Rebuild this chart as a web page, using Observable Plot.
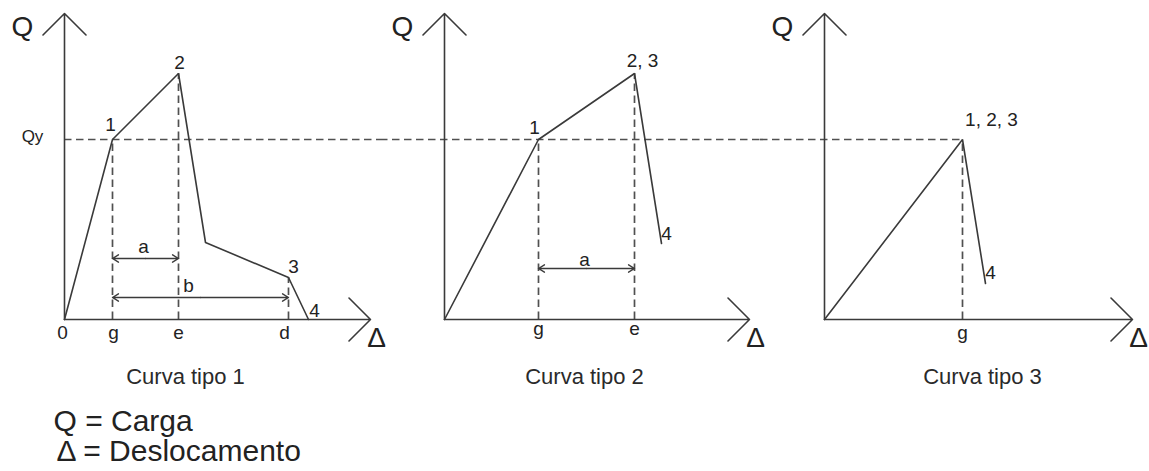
<!DOCTYPE html>
<html><head><meta charset="utf-8">
<script src="https://cdn.jsdelivr.net/npm/d3@7"></script>
<script src="https://cdn.jsdelivr.net/npm/@observablehq/plot@0.6"></script>
<style>body{margin:0;background:#fff} svg{display:block}</style>
</head><body><div id="chart"></div>
<script>
// ---- data (arbitrary units) ----
const panels = [1, 2, 3];
const captions = ["Curva tipo 1", "Curva tipo 2", "Curva tipo 3"];
const legendLines = ["Q = Carga", "Δ = Deslocamento"];
const curveD1 = [0, 48, 114, 141, 224, 244];
const curveQ1 = [0, 180, 246, 77, 42, 0];
const curveD2 = [0, 94, 190, 217];
const curveQ2 = [0, 180, 246, 76];
const curveD3 = [0, 138, 161];
const curveQ3 = [0, 180, 36];
const vertexNames1 = ["", "1", "2", "", "3", "4"];
const vertexNames2 = ["", "1", "2, 3", "4"];
const vertexNames3 = ["", "1, 2, 3", "4"];
const Qy = 180;
const axisQLength = [306, 306, 306];
const axisDLength = [306, 305, 308];
const tickNames1 = ["0", "g", "e", "d"];
const tickNames2 = ["g", "e"];
const tickNames3 = ["g"];
const tickVertex1 = [0, 1, 2, 4];
const tickVertex2 = [1, 2];
const tickVertex3 = [1];
const dimNames = ["a", "b", "a"];
const dimPanel = [1, 1, 2];
const dimFromVertex = [1, 1, 1];
const dimToVertex = [2, 4, 2];
const dimQ = [61, 22, 51];

// ---- layout / style ----
const W = 1149, H = 471;
const deltaDomain = [-64, 316];
const qDomain = [-152, 319];
const lineColor = "#3a3a3a", textColor = "#222", dashColor = "#505050";
const font = "Liberation Sans, Arial, Helvetica, sans-serif";

const curves = [[curveD1, curveQ1, vertexNames1], [curveD2, curveQ2, vertexNames2], [curveD3, curveQ3, vertexNames3]];
const curveRows = panels.flatMap((p, i) => curves[i][0].map((d, j) => ({panel: p, d, q: curves[i][1][j], name: curves[i][2][j]})));
const vertex = (p, j) => curveRows.filter(r => r.panel === p)[j];

const axisRows = panels.map((p, i) => ({panel: p, qLen: axisQLength[i], dLen: axisDLength[i]}));
const tickSets = [[tickNames1, tickVertex1], [tickNames2, tickVertex2], [tickNames3, tickVertex3]];
const tickRows = panels.flatMap((p, i) => tickSets[i][0].map((n, k) => {
  const v = vertex(p, tickSets[i][1][k]);
  return {panel: p, d: v.d, q: v.q, name: n};
}));
const guideRows = tickRows.filter(r => r.q > 0);
const qyRows = [
  {panel: 1, from: 0, to: deltaDomain[1]},
  {panel: 2, from: deltaDomain[0], to: deltaDomain[1]},
  {panel: 3, from: deltaDomain[0], to: vertex(3, 1).d}
];
const dimRows = dimNames.map((n, i) => {
  const a = vertex(dimPanel[i], dimFromVertex[i]).d, b = vertex(dimPanel[i], dimToVertex[i]).d;
  return {panel: dimPanel[i], name: n, from: a, to: b, mid: (a + b) / 2, q: dimQ[i]};
});
const captionRows = panels.map((p, i) => ({panel: p, text: captions[i]}));

function label(p, j, dx, dy, size = 19) {
  const v = vertex(p, j);
  return Plot.text([v], {fx: "panel", x: "d", y: "q", text: "name", dx, dy, fontSize: size, lineAnchor: "bottom", fill: textColor, fontFamily: font});
}
function tick(p, name, dx, dy) {
  return Plot.text(tickRows.filter(r => r.panel === p && r.name === name), {fx: "panel", x: "d", y: 0, text: "name", dx, dy, fontSize: 19, lineAnchor: "bottom", fill: textColor, fontFamily: font});
}
function dimLabel(i, dx, dy) {
  return Plot.text([dimRows[i]], {fx: "panel", x: "mid", y: "q", text: "name", dx, dy, fontSize: 19, lineAnchor: "bottom", fill: textColor, fontFamily: font});
}

const plot = Plot.plot({
  width: W, height: H,
  marginTop: 0, marginRight: 9, marginBottom: 0, marginLeft: 0,
  style: {fontFamily: font, background: "#fff"},
  fx: {axis: null, domain: panels, padding: 0},
  x: {axis: null, domain: deltaDomain},
  y: {axis: null, domain: qDomain},
  marks: [
    // Qy dashed line
    Plot.ruleY(qyRows, {fx: "panel", y: Qy, x1: "from", x2: "to", stroke: dashColor, strokeWidth: 1.7, strokeDasharray: "7.5,4.5"}),
    // vertical guides
    Plot.ruleX(guideRows, {fx: "panel", x: "d", y1: 0, y2: "q", stroke: dashColor, strokeWidth: 1.7, strokeDasharray: "7.5,4.5"}),
    // axes with open arrowheads
    Plot.arrow(axisRows, {fx: "panel", x1: 0, y1: 0, x2: 0, y2: "qLen", stroke: lineColor, strokeWidth: 1.6, headAngle: 90, headLength: 28.5}),
    Plot.arrow(axisRows, {fx: "panel", x1: 0, y1: 0, x2: "dLen", y2: 0, stroke: lineColor, strokeWidth: 1.6, headAngle: 90, headLength: 28.5}),
    // dimension arrows (double headed)
    Plot.arrow(dimRows, {fx: "panel", x1: "mid", x2: "from", y1: "q", y2: "q", stroke: lineColor, strokeWidth: 1.4, headAngle: 64, headLength: 7.5}),
    Plot.arrow(dimRows, {fx: "panel", x1: "mid", x2: "to", y1: "q", y2: "q", stroke: lineColor, strokeWidth: 1.4, headAngle: 64, headLength: 7.5}),
    // curves
    Plot.line(curveRows, {fx: "panel", x: "d", y: "q", stroke: lineColor, strokeWidth: 1.6, strokeLinejoin: "miter"}),
    // axis names
    Plot.text(axisRows, {fx: "panel", x: 0, y: "qLen", text: () => "Q", dx: -42, dy: 22, fontSize: 28, lineAnchor: "bottom", fill: textColor, fontFamily: font}),
    Plot.text(axisRows, {fx: "panel", x: "dLen", y: 0, text: () => "Δ", dx: 6, dy: 27, fontSize: 28, lineAnchor: "bottom", fill: textColor, fontFamily: font}),
    Plot.text([{panel: 1}], {fx: "panel", x: 0, y: Qy, text: () => "Qy", dx: -32, dy: 2, fontSize: 17, lineAnchor: "bottom", fill: textColor, fontFamily: font}),
    // vertex labels
    label(1, 1, -2, -9), label(1, 2, 1, -5), label(1, 4, 5, -5), label(1, 5, 6, -3),
    label(2, 1, -4, -6), label(2, 2, 8, -7), label(2, 3, 5, -4),
    label(3, 1, 29, -14), label(3, 2, 5, -5),
    // tick labels
    tick(1, "0", -2, 19), tick(1, "g", 1, 19), tick(1, "e", 0, 19), tick(1, "d", -4, 19),
    tick(2, "g", 0, 15), tick(2, "e", 0, 15),
    tick(3, "g", 0, 19),
    // dimension labels
    dimLabel(0, -2, -6), dimLabel(1, -12, -6), dimLabel(2, -2, -3),
    // captions
    Plot.text(captionRows, {fx: "panel", x: (d, i) => [121, 140, 158][i], y: -64, text: "text", fontSize: 22, lineAnchor: "bottom", fill: "#2a2a2a", fontFamily: font}),
    // legend
    Plot.text([{panel: 1, t: legendLines[0]}], {fx: "panel", x: -11, y: -111, text: "t", textAnchor: "start", fontSize: 30, lineAnchor: "bottom", fill: textColor, fontFamily: font}),
    Plot.text([{panel: 1, t: legendLines[1]}], {fx: "panel", x: -8, y: -141, text: "t", textAnchor: "start", fontSize: 30, lineAnchor: "bottom", fill: textColor, fontFamily: font})
  ]
});
document.getElementById("chart").append(plot);
</script>
</body></html>
